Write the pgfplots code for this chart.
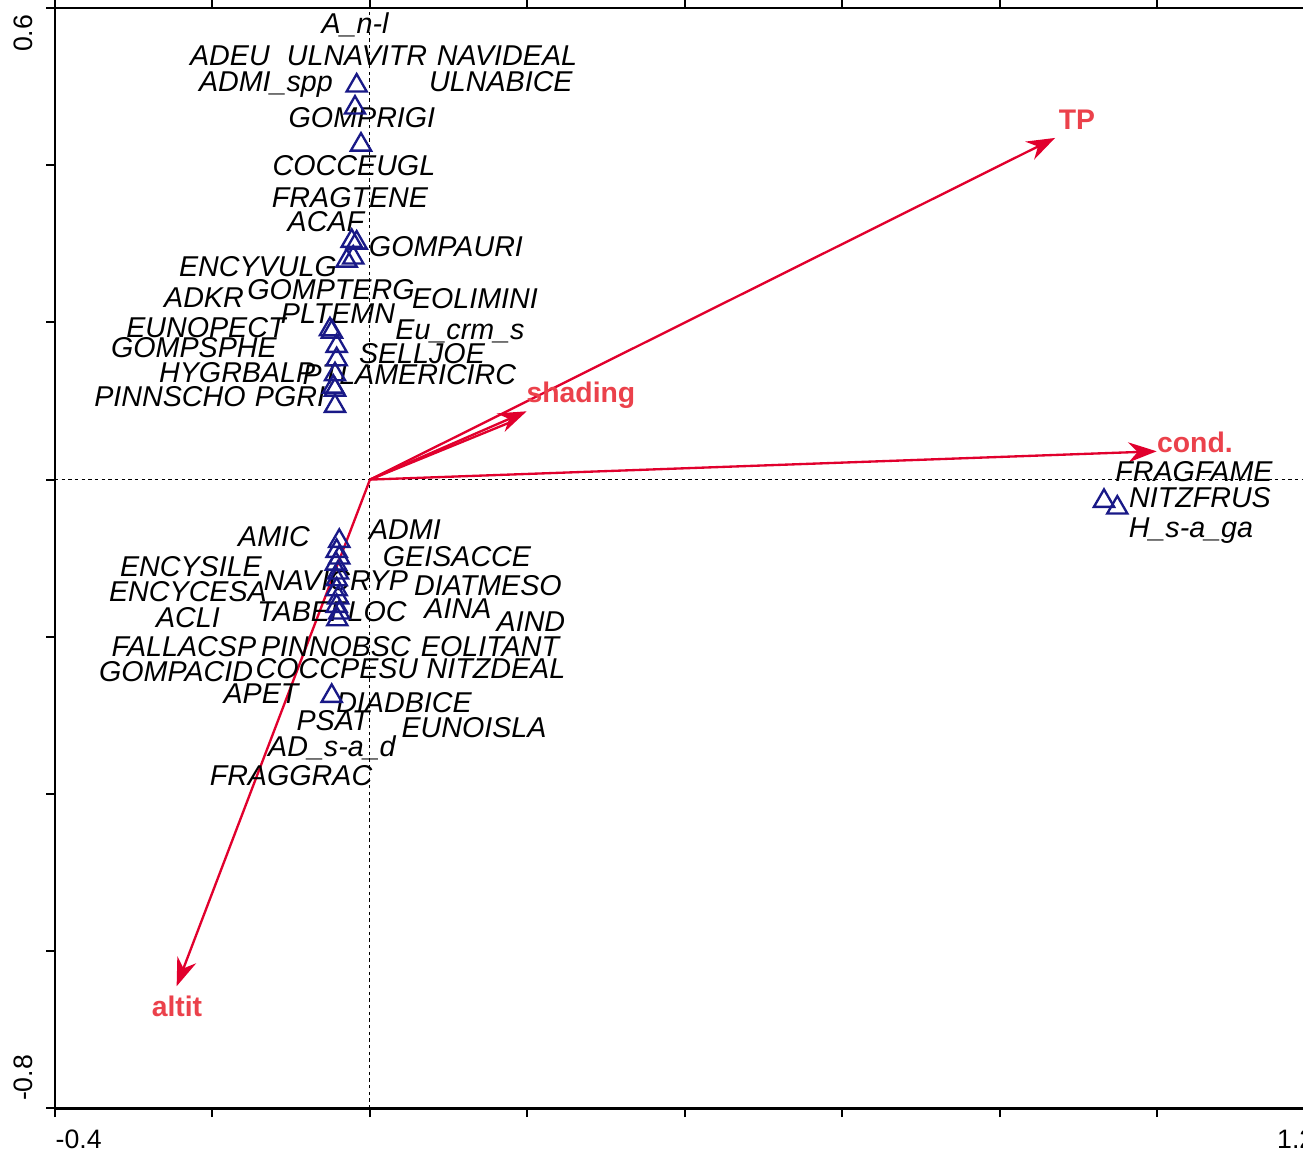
\documentclass[border=0pt]{standalone}
\usepackage{fontspec}
\setmainfont{Liberation Sans}
\usepackage{pgfplots}
\pgfplotsset{compat=1.18}
\usetikzlibrary{arrows.meta}
\definecolor{navy}{RGB}{25,25,135}
\definecolor{arrred}{RGB}{225,0,45}
\definecolor{labred}{RGB}{235,65,75}
\begin{document}
\begin{tikzpicture}[
  sp/.style={font=\fontsize{8.6}{10}\selectfont\itshape, anchor=base, inner sep=0pt, text=black},
  rl/.style={font=\fontsize{8.5}{10}\selectfont\bfseries, anchor=base, inner sep=0pt, text=labred},
  tl/.style={font=\fontsize{8.0}{10}\selectfont, inner sep=0pt, text=black}]
\begin{axis}[
  scale only axis, width=378pt, height=330.12pt,
  xmin=-0.4, xmax=1.2, ymin=-0.8, ymax=0.6,
  xtick={-0.4,-0.2,0,0.2,0.4,0.6,0.8,1.0,1.2},
  ytick={-0.8,-0.6,-0.4,-0.2,0,0.2,0.4,0.6},
  xticklabels={}, yticklabels={},
  tick align=outside, major tick length=2.6pt,
  tick style={black, line width=0.6pt},
  axis line style={line width=0.7pt},
  clip=false,
]
% reference lines
\addplot[black, line width=0.3pt, dash pattern=on 1pt off 1pt] coordinates {(-0.4,0) (1.2,0)};
\addplot[black, line width=0.3pt, dash pattern=on 1pt off 1pt] coordinates {(0,-0.8) (0,0.6)};
% environmental arrows
\addplot[arrred, line width=0.7pt, -{Stealth[length=8.5pt,width=6pt]}] coordinates {(0,0) (0.870,0.4347)};
\addplot[arrred, line width=0.7pt, -{Stealth[length=8.5pt,width=6pt]}] coordinates {(0,0) (0.999,0.036)};
\addplot[arrred, line width=0.7pt, -{Stealth[length=8.5pt,width=6pt]}] coordinates {(0,0) (0.199,0.0869)};
\addplot[arrred, line width=0.7pt] coordinates {(0,0) (0.182,0.0745)};
\addplot[arrred, line width=0.7pt, -{Stealth[length=8.5pt,width=6pt]}] coordinates {(0,0) (-0.2455,-0.6446)};
% species
\addplot[only marks, mark=triangle, mark size=3.5pt, mark options={draw=navy, fill=none, line width=0.7pt}] coordinates {
(-0.0169,0.5011) (-0.0190,0.4731) (-0.0114,0.4260) (-0.0232,0.3035) (-0.0169,0.3013)
(-0.0296,0.2784) (-0.0212,0.2823) (-0.0508,0.1910) (-0.0483,0.1881) (-0.0423,0.1699)
(-0.0423,0.1529) (-0.0444,0.1338) (-0.0466,0.1181) (-0.0444,0.1143) (-0.0444,0.0936)
(-0.0390,-0.0782) (-0.0423,-0.0909) (-0.0390,-0.0994) (-0.0432,-0.1071) (-0.0406,-0.1185)
(-0.0423,-0.1270) (-0.0423,-0.1397) (-0.0403,-0.1503) (-0.0423,-0.1609) (-0.0390,-0.1694)
(-0.0415,-0.1779) (-0.0486,-0.2754) (0.9321,-0.0273) (0.9490,-0.0358)
};
% species labels
\node[sp] at (axis cs:-0.0190,0.5674) {A\_n-l};
\node[sp] at (axis cs:-0.1778,0.5267) {ADEU};
\node[sp] at (axis cs:-0.0165,0.5267) {ULNAVITR};
\node[sp] at (axis cs:0.1740,0.5267) {NAVIDEAL};
\node[sp] at (axis cs:-0.1321,0.4936) {ADMI\_spp};
\node[sp] at (axis cs:0.1663,0.4936) {ULNABICE};
\node[sp] at (axis cs:-0.0102,0.4478) {GOMPRIGI};
\node[sp] at (axis cs:-0.0203,0.3868) {COCCEUGL};
\node[sp] at (axis cs:-0.0254,0.3461) {FRAGTENE};
\node[sp] at (axis cs:-0.0559,0.3155) {ACAF};
\node[sp] at (axis cs:0.0965,0.2837) {GOMPAURI};
\node[sp] at (axis cs:-0.1422,0.2583) {ENCYVULG};
\node[sp] at (axis cs:-0.2108,0.2188) {ADKR};
\node[sp] at (axis cs:-0.0495,0.2290) {GOMPTERG};
\node[sp] at (axis cs:0.1333,0.2176) {EOLIMINI};
\node[sp] at (axis cs:-0.0406,0.1985) {PLTEMN};
\node[sp] at (axis cs:-0.2083,0.1807) {EUNOPECT};
\node[sp] at (axis cs:0.1143,0.1781) {Eu\_crm\_s};
\node[sp] at (axis cs:-0.2235,0.1552) {GOMPSPHE};
\node[sp] at (axis cs:0.0660,0.1476) {SELLJOE};
\node[sp, anchor=base east] at (axis cs:-0.0686,0.1234) {HYGRBALP};
\node[sp, anchor=base west] at (axis cs:-0.0863,0.1209) {PTLAMERICIRC};
\node[sp] at (axis cs:-0.2540,0.0929) {PINNSCHO};
\node[sp] at (axis cs:-0.1016,0.0929) {PGRI};
\node[sp] at (axis cs:-0.1219,-0.0852) {AMIC};
\node[sp] at (axis cs:0.0444,-0.0763) {ADMI};
\node[sp] at (axis cs:-0.2273,-0.1234) {ENCYSILE};
\node[sp] at (axis cs:0.1105,-0.1107) {GEISACCE};
\node[sp] at (axis cs:-0.0432,-0.1412) {NAVICRYP};
\node[sp] at (axis cs:-0.2311,-0.1552) {ENCYCESA};
\node[sp] at (axis cs:0.1498,-0.1476) {DIATMESO};
\node[sp] at (axis cs:-0.2311,-0.1883) {ACLI};
\node[sp] at (axis cs:-0.0483,-0.1807) {TABEFLOC};
\node[sp] at (axis cs:0.1117,-0.1768) {AINA};
\node[sp] at (axis cs:0.2044,-0.1934) {AIND};
\node[sp] at (axis cs:-0.2362,-0.2252) {FALLACSP};
\node[sp] at (axis cs:-0.0432,-0.2252) {PINNOBSC};
\node[sp] at (axis cs:0.1524,-0.2252) {EOLITANT};
\node[sp] at (axis cs:-0.2463,-0.2570) {GOMPACID};
\node[sp] at (axis cs:-0.0419,-0.2532) {COCCPESU};
\node[sp] at (axis cs:0.1600,-0.2532) {NITZDEAL};
\node[sp] at (axis cs:-0.1384,-0.2850) {APET};
\node[sp] at (axis cs:0.0432,-0.2964) {DIADBICE};
\node[sp] at (axis cs:-0.0470,-0.3193) {PSAT};
\node[sp] at (axis cs:0.1321,-0.3282) {EUNOISLA};
\node[sp] at (axis cs:-0.0483,-0.3524) {AD\_s-a\_d};
\node[sp] at (axis cs:-0.1003,-0.3893) {FRAGGRAC};
\node[sp] at (axis cs:1.0463,-0.0025) {FRAGFAME};
\node[sp] at (axis cs:1.0540,-0.0356) {NITZFRUS};
\node[sp] at (axis cs:1.0425,-0.0738) {H\_s-a\_ga};
% variable labels
\node[rl] at (axis cs:0.8978,0.4453) {TP};
\node[rl] at (axis cs:0.2679,0.0978) {shading};
\node[rl] at (axis cs:1.0476,0.0346) {cond.};
\node[rl] at (axis cs:-0.2451,-0.6833) {altit};
% tick labels
\node[tl, anchor=base west] at (axis cs:-0.4,-0.8511) {-0.4};
\node[tl, anchor=base east] at (axis cs:1.2,-0.8511) {1.2};
\node[tl, anchor=base west, rotate=90] at (axis cs:-0.4279,0.5433) {0.6};
\node[tl, anchor=base west, rotate=90] at (axis cs:-0.4279,-0.7913) {-0.8};
\coordinate (bbA) at (axis cs:-0.4698,-0.8534);
\coordinate (bbB) at (axis cs:1.1848,0.6102);
\end{axis}
\pgfresetboundingbox
\path[use as bounding box] (bbA) rectangle (bbB);
\end{tikzpicture}
\end{document}
